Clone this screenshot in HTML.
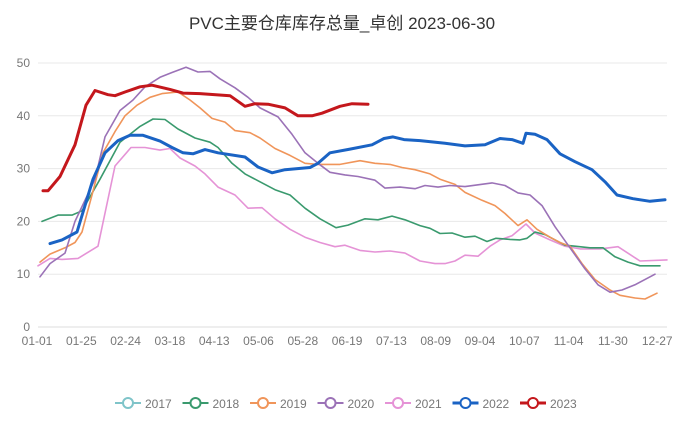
<!DOCTYPE html>
<html><head><meta charset="utf-8"><style>
body{margin:0;background:#fff;width:684px;height:420px;overflow:hidden;font-family:"Liberation Sans","Noto Sans CJK SC",sans-serif}
</style></head><body>
<svg id="s" width="684" height="420" xmlns="http://www.w3.org/2000/svg" font-family="Liberation Sans, Noto Sans CJK SC, sans-serif">
<text x="342" y="29" text-anchor="middle" font-size="17" fill="#333">PVC主要仓库库存总量_卓创 2023-06-30</text>
<g id="grid"></g><g id="lines" fill="none" stroke-linejoin="round" stroke-linecap="round"></g><g id="leg"></g>
</svg>
<script>
var s=document.getElementById('s'),ns='http://www.w3.org/2000/svg';
function el(t,a,p,txt){var e=document.createElementNS(ns,t);for(var k in a)e.setAttribute(k,a[k]);if(txt)e.textContent=txt;(p||s).appendChild(e);return e;}
function Y(v){return 327-5.28*v;}
var g=document.getElementById('grid');
for(var i=0;i<=5;i++){var y=Y(i*10);el('line',{x1:38,x2:667,y1:y,y2:y,stroke:i?'#e8e8e8':'#ddd','stroke-width':1},g);el('text',{x:30,y:y+4,'text-anchor':'end','font-size':12,fill:'#777'},g,String(i*10));}
var xl=['01-01','01-25','02-24','03-18','04-13','05-06','05-28','06-19','07-13','08-09','09-04','10-07','11-04','11-30','12-27'];
xl.forEach(function(l,i){el('text',{x:37+i*44.3,y:345,'text-anchor':'middle','font-size':12,fill:'#777'},g,l);});
var L=document.getElementById('lines');
var D={
'#e593d6':[[38,11.6],[50,13],[62,12.8],[78,13],[98,15.3],[115,30.5],[131,34],[145,34],[160,33.5],[170,33.8],[180,32],[195,30.5],[205,29],[218,26.5],[235,25],[248,22.5],[262,22.6],[275,20.5],[290,18.5],[305,17],[320,16],[335,15.2],[345,15.5],[360,14.5],[375,14.2],[390,14.4],[405,14],[420,12.5],[435,12],[445,12],[455,12.5],[465,13.6],[478,13.4],[490,15.3],[500,16.5],[512,17.3],[526,19.5],[535,17.8],[550,16.5],[565,15.3],[580,14.8],[600,14.8],[618,15.2],[640,12.5],[667,12.7]],
'#3a9a6e':[[42,20],[58,21.2],[72,21.2],[82,22],[88,24],[100,28],[120,35],[140,38],[153,39.4],[165,39.3],[178,37.5],[195,35.8],[210,35],[218,34],[232,31],[245,29],[260,27.5],[275,26],[290,25],[305,22.5],[320,20.5],[336,18.8],[348,19.3],[365,20.5],[378,20.3],[392,21],[405,20.3],[420,19.2],[430,18.7],[440,17.7],[452,17.8],[465,17],[475,17.2],[487,16.2],[496,16.8],[510,16.6],[520,16.5],[527,16.8],[535,18],[545,17.5],[555,16.5],[565,15.5],[575,15.3],[590,15],[603,15],[615,13.3],[628,12.3],[640,11.6],[660,11.6]],
'#f0955a':[[40,12.3],[50,13.8],[65,15],[75,16],[82,18],[92,25],[103,33],[115,37],[125,40],[137,42],[150,43.5],[162,44.2],[178,44.5],[190,43],[200,41.5],[212,39.5],[225,38.8],[235,37.2],[250,36.8],[260,35.8],[275,33.8],[290,32.5],[305,31],[318,30.8],[340,30.8],[360,31.5],[375,31],[390,30.8],[402,30.2],[415,29.8],[430,29],[440,28],[455,27],[465,25.5],[482,24],[495,23],[505,21.5],[518,19.2],[527,20.3],[537,18.5],[550,17],[560,16],[570,15.3],[582,12],[595,9],[610,7],[620,6],[635,5.5],[645,5.3],[657,6.4]],
'#9b72b7':[[40,9.5],[50,12],[65,14],[75,20],[95,28],[105,36],[120,41],[133,43],[145,45.5],[160,47.3],[172,48.2],[186,49.2],[198,48.3],[210,48.4],[220,47],[235,45.3],[248,43.5],[260,41.5],[278,39.8],[292,36.5],[305,33],[318,31],[330,29.3],[345,28.8],[358,28.5],[375,27.8],[385,26.3],[400,26.5],[415,26.2],[425,26.8],[438,26.5],[450,26.8],[465,26.6],[492,27.3],[505,26.8],[518,25.4],[530,25],[542,23],[555,19],[570,15],[585,11],[598,8],[610,6.6],[622,7],[635,8],[655,10]],
'#1a63c4':[[50,15.8],[62,16.5],[77,18],[93,28],[105,33],[118,35.3],[130,36.3],[143,36.3],[160,35.2],[172,34],[183,33],[193,32.8],[205,33.6],[218,33],[245,32.2],[258,30.3],[272,29.2],[285,29.8],[310,30.2],[318,31],[330,33],[350,33.7],[372,34.5],[384,35.7],[393,36],[404,35.5],[420,35.3],[445,34.8],[465,34.3],[485,34.5],[500,35.7],[512,35.5],[523,34.8],[526,36.7],[535,36.5],[547,35.5],[560,32.8],[575,31.3],[592,29.8],[605,27.5],[617,25],[633,24.3],[650,23.8],[665,24.1]],
'#c4171c':[[43,25.8],[48,25.8],[60,28.5],[75,34.5],[86,42],[95,44.8],[108,44],[115,43.8],[125,44.5],[140,45.5],[152,45.8],[170,45],[183,44.3],[200,44.2],[230,43.8],[245,41.8],[255,42.3],[268,42.2],[285,41.5],[298,40],[312,40],[322,40.5],[340,41.8],[352,42.3],[368,42.2]]};
for(var c in D){var w=(c=='#1a63c4'||c=='#c4171c')?3:1.6;el('polyline',{points:D[c].map(function(p){return p[0]+','+Y(p[1]).toFixed(1)}).join(' '),stroke:c,'stroke-width':w},L);}
var lg=document.getElementById('leg');
var items=[['2017','#7fc4c9'],['2018','#3a9a6e'],['2019','#f0955a'],['2020','#9b72b7'],['2021','#e593d6'],['2022','#1a63c4'],['2023','#c4171c']];
items.forEach(function(it,i){var x=115+i*67.5,y=403,bold=i>=5;
el('line',{x1:x,x2:x+26,y1:y,y2:y,stroke:it[1],'stroke-width':bold?3:2},lg);
el('circle',{cx:x+13,cy:y,r:5,fill:'#fff',stroke:it[1],'stroke-width':2},lg);
el('text',{x:x+30,y:y+5,'font-size':12,fill:'#777'},lg,it[0]);});
</script>
</body></html>
